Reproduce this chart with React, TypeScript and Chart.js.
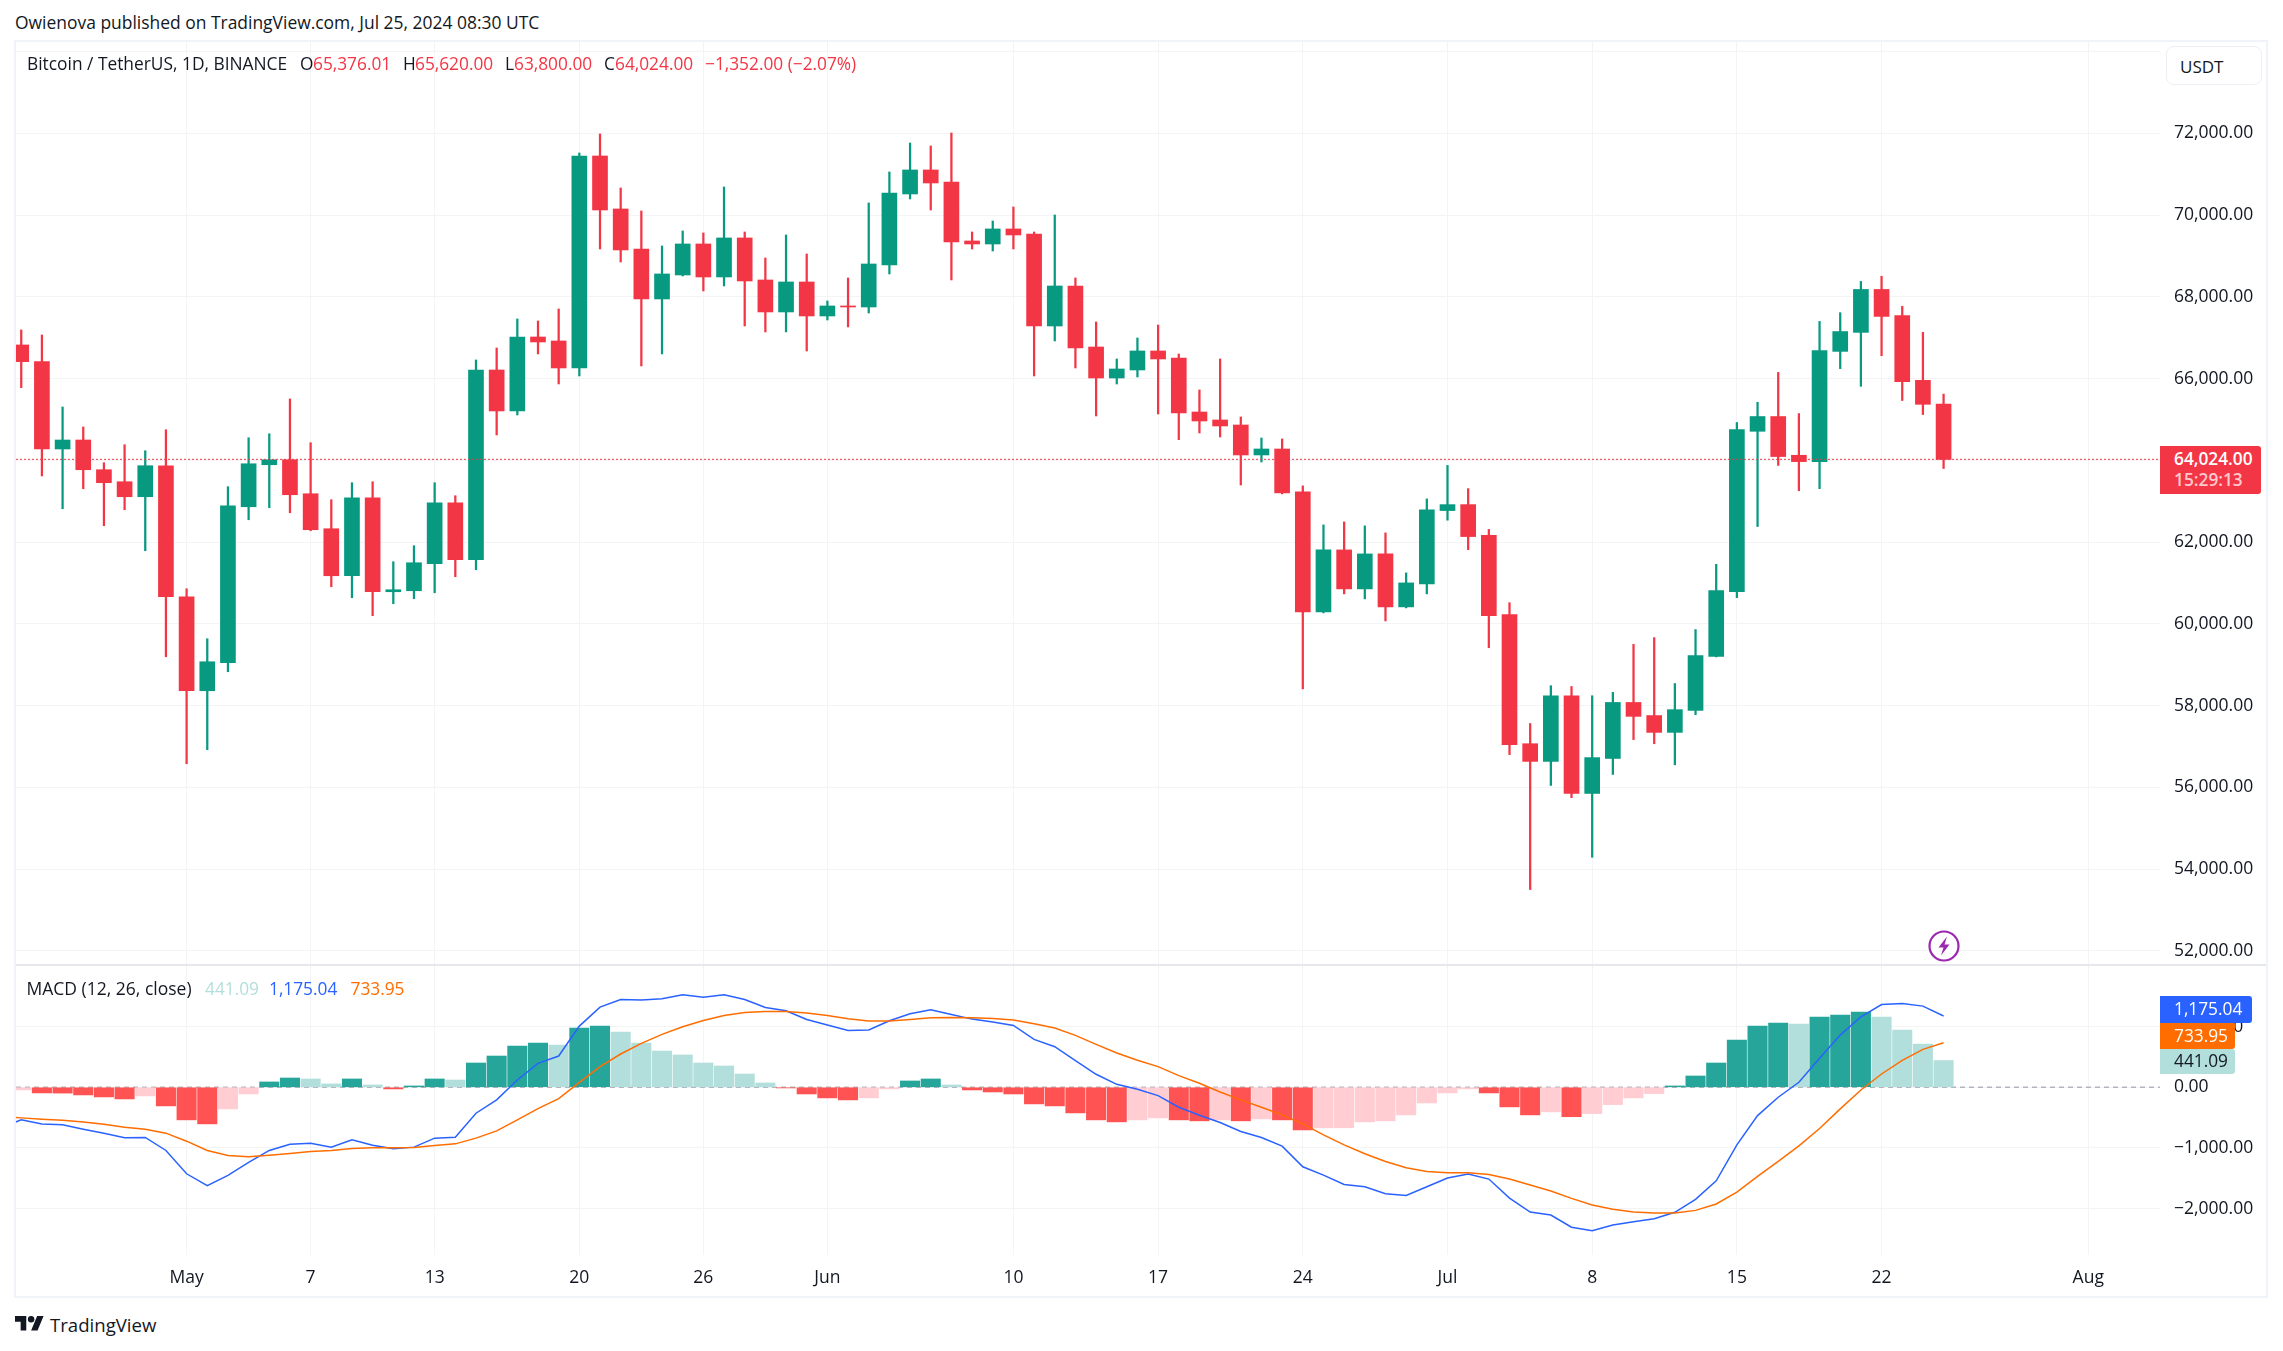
import React, { useEffect, useRef } from "react";
import { Chart, registerables } from "chart.js";

Chart.register(...registerables);

const candleOpen = [66822,66414,64277,64497,63770,63476,63109,63868,60663,58363,59048,62864,63892,64014,63182,62326,61176,63085,60785,60809,61470,62962,61568,66210,65207,67017,66920,66259,71445,70149,69170,67947,68534,69293,68485,69440,68412,67629,68363,67531,67776,67751,68779,70516,71103,70809,69366,69292,69660,69537,67286,68265,66772,66014,66210,66675,66503,65182,64987,64864,64131,64277,63227,60292,61808,60854,61710,60414,60977,62771,62916,62165,60229,57067,56634,58240,55850,56706,58076,57756,57344,57881,59200,60785,64710,65071,64123,63968,66665,67130,68180,67541,65956,65376.01];
const candleHigh = [67189,67066,65305,64815,63941,64381,64234,64748,60858,59635,63354,64552,64650,65501,64430,63036,63452,63476,61519,61910,63452,63134,66455,66748,67458,67409,67702,71519,71984,70663,70100,69244,69611,69562,70687,69586,68950,69513,69048,67898,68461,70296,71054,71763,71690,72008,69586,69855,70198,69586,70002,68461,67384,66479,66993,67311,66601,65721,66479,65060,64546,64522,63374,62420,62493,62396,62224,61246,63056,63875,63307,62309,60517,57561,58487,58467,58240,58323,59497,59662,58539,59859,61456,64925,65420,66150,65143,67398,67612,68376,68500,67768,67130,65620];
const candleLow = [65778,63617,62815,63305,62400,62791,61788,59195,56577,56920,58828,62546,62840,62718,62277,60907,60638,60198,60491,60614,60760,61152,61323,64620,65109,66602,65868,66063,69170,68852,66308,66602,68510,68143,68265,67286,67140,67140,66675,67433,67262,67604,68559,70393,70124,68412,69170,69121,69170,66063,66920,66259,65085,65867,66039,65133,64504,64669,64571,63396,63959,63178,58408,60267,60732,60610,60071,60390,60732,62535,61815,59415,56800,53500,56046,55747,54288,56315,57168,57066,56551,57777,59190,60640,62380,63875,63256,63307,66243,65810,66560,65462,65120,63800];
const candleClose = [66414,64277,64497,63770,63452,63109,63868,60663,58363,59072,62889,63916,64014,63158,62302,61176,63085,60785,60834,61494,62962,61568,66210,65207,67017,66895,66259,71445,70124,69146,67947,68559,69293,68485,69440,68387,67629,68363,67531,67776,67751,68803,70540,71103,70785,69341,69292,69660,69513,67286,68265,66748,66014,66234,66675,66479,65158,64962,64840,64131,64277,63203,60292,61808,60854,61710,60414,61001,62787,62916,62134,60198,57046,56634,58240,55850,56727,58076,57736,57344,57900,59220,60816,64752,65071,64092,63968,66684,67150,68180,67520,65925,65370,64024];
const lastPrice = 64024;

const macdHistogram = [-44,-93,-96,-126,-159,-192,-142,-307,-537,-603,-356,-110,88,153,137,55,137,38,-27,22,137,120,400,515,680,729,696,975,1008,910,729,597,532,400,351,219,71,-11,-110,-175,-208,-175,-27,104,137,38,-44,-77,-110,-274,-307,-422,-537,-570,-537,-504,-537,-553,-537,-553,-521,-537,-701,-668,-667,-570,-553,-455,-258,-93,-27,-93,-323,-455,-405,-485,-433,-285,-175,-104,22,186,400,778,1008,1058,1041,1156,1189,1238,1156,943,712,441.09];
const macdLine = [-537,-603,-619,-690,-756,-833,-827,-1041,-1425,-1622,-1452,-1238,-1041,-937,-921,-986,-866,-954,-1014,-986,-838,-822,-427,-208,120,395,515,1008,1321,1447,1436,1458,1523,1485,1523,1447,1315,1260,1118,1025,937,943,1096,1211,1277,1200,1123,1074,1019,789,669,438,214,49,-33,-137,-329,-460,-581,-729,-827,-970,-1310,-1447,-1600,-1639,-1754,-1781,-1639,-1496,-1430,-1512,-1825,-2055,-2104,-2305,-2362,-2269,-2214,-2165,-2060,-1847,-1540,-948,-466,-164,82,477,860,1162,1364,1381,1337,1175.04];
const signalLine = [-504,-526,-543,-570,-608,-658,-690,-756,-888,-1041,-1123,-1145,-1118,-1090,-1058,-1041,-1008,-997,-997,-992,-959,-932,-838,-718,-537,-351,-186,82,340,548,723,871,997,1101,1184,1233,1249,1249,1222,1184,1129,1091,1091,1118,1145,1151,1145,1134,1107,1047,975,855,707,564,444,340,192,66,-77,-208,-329,-455,-603,-784,-948,-1096,-1222,-1326,-1386,-1408,-1408,-1436,-1512,-1611,-1710,-1830,-1940,-2011,-2055,-2071,-2071,-2028,-1923,-1726,-1469,-1222,-964,-680,-356,-44,219,444,625,733.95];
// The day before the first visible candle: its line values run in from off the left edge.
const macdLineBefore = -668;
const signalLineBefore = -482;

const xTickIndex = [8,14,20,27,33,39,48,55,62,69,76,83,90,100];
const xTickText = ["May","7","13","20","26","Jun","10","17","24","Jul","8","15","22","Aug"];
const priceTicks = [52000,54000,56000,58000,60000,62000,64000,66000,68000,70000,72000,74000];
const macdTicks = [-2000,-1000,0,1000];

const FONT = '"Open Sans", sans-serif';
const TICK_SIZE = 17.5;
const TEXT = "#131722";
const UP = "#089981";
const DOWN = "#F23645";
const GRID = "#f3f4f6";
const X_MIN = -0.2535;
const X_MAX = 103.47;

const fmt = (v: number) => {
  const s = Math.abs(v).toLocaleString("en-US", { minimumFractionDigits: 2, maximumFractionDigits: 2 });
  return (v < 0 ? "\u2212" : "") + s;
};

const histColor = (v: number, i: number) => {
  const prev = i === 0 ? -1e9 : macdHistogram[i - 1];
  if (v >= 0) return v >= prev ? "#26A69A" : "#B2DFDB";
  return v < prev ? "#FF5252" : "#FFCDD2";
};

const noPadding = (s: any) => {
  s.paddingTop = 0;
  s.paddingBottom = 0;
  s.paddingLeft = 0;
  s.paddingRight = 0;
};

const xScale = (showLabels: boolean, height: number) => ({
  type: "linear",
  min: X_MIN,
  max: X_MAX,
  bounds: "data",
  offset: false,
  grid: { color: GRID, lineWidth: 1, drawTicks: false, offset: false },
  border: { display: false },
  afterBuildTicks: (s: any) => { s.ticks = xTickIndex.map((value) => ({ value })); },
  afterFit: (s: any) => { s.height = height; noPadding(s); },
  ticks: {
    display: showLabels,
    autoSkip: false,
    maxRotation: 0,
    padding: 13,
    color: TEXT,
    font: { family: FONT, size: TICK_SIZE },
    callback: (v: number) => xTickText[xTickIndex.indexOf(v)] ?? "",
  },
});

const yScale = (min: number, max: number, tickList: number[], hidden: number[]) => ({
  type: "linear",
  position: "right",
  min,
  max,
  bounds: "data",
  grid: { color: GRID, lineWidth: 1, drawTicks: false },
  border: { display: false },
  afterBuildTicks: (s: any) => { s.ticks = tickList.map((value) => ({ value })); },
  afterFit: (s: any) => { s.width = 106; noPadding(s); },
  ticks: {
    autoSkip: false,
    crossAlign: "near",
    padding: 14,
    color: TEXT,
    font: { family: FONT, size: TICK_SIZE },
    callback: (v: number) => (hidden.includes(v) ? "" : fmt(v)),
  },
});

const baseOptions = {
  responsive: false,
  animation: false,
  events: [],
  layout: { padding: 0 },
  plugins: { legend: { display: false }, tooltip: { enabled: false }, title: { display: false } },
};

function abs(left: number, top: number, extra: any = {}) {
  return { position: "absolute", left, top, ...extra } as React.CSSProperties;
}

function Txt({ x, cy, color = TEXT, size = 17.3, children, weight = 400 }: any) {
  return (
    <span
      style={{
        position: "absolute",
        left: x,
        top: cy,
        transform: "translateY(-50%)",
        color,
        fontSize: size,
        fontWeight: weight,
        fontFamily: FONT,
        whiteSpace: "pre",
        lineHeight: 1,
      }}
    >
      {children}
    </span>
  );
}

export default function App() {
  const priceRef = useRef<HTMLCanvasElement>(null);
  const macdRef = useRef<HTMLCanvasElement>(null);

  useEffect(() => {
    const idx = candleOpen.map((_, i) => i);
    const candleColors = idx.map((i) => (candleClose[i] >= candleOpen[i] ? UP : DOWN));

    const price = new Chart(priceRef.current!, {
      type: "bar",
      data: {
        datasets: [
          {
            type: "line",
            order: 0,
            data: [{ x: X_MIN, y: lastPrice }, { x: X_MAX, y: lastPrice }],
            borderColor: DOWN,
            borderWidth: 1,
            borderDash: [2, 2],
            pointRadius: 0,
          },
          {
            order: 1,
            grouped: false,
            barThickness: 15,
            data: idx.map((i) => ({ x: i, y: [candleOpen[i], candleClose[i]] })),
            backgroundColor: candleColors,
            borderWidth: 0,
          },
          {
            order: 2,
            grouped: false,
            barThickness: 1.6,
            data: idx.map((i) => ({ x: i, y: [candleLow[i], candleHigh[i]] })),
            backgroundColor: candleColors,
            borderWidth: 0,
          },
        ],
      } as any,
      options: {
        ...baseOptions,
        scales: {
          x: xScale(false, 0),
          y: yScale(51653.3, 74233.6, priceTicks, [74000]),
        },
      } as any,
    });

    const macd = new Chart(macdRef.current!, {
      type: "bar",
      data: {
        datasets: [
          {
            type: "line",
            order: 0,
            data: [{ x: -1, y: signalLineBefore }, ...idx.map((i) => ({ x: i, y: signalLine[i] }))],
            borderColor: "#FF6D00",
            borderWidth: 1.5,
            pointRadius: 0,
          },
          {
            type: "line",
            order: 1,
            data: [{ x: -1, y: macdLineBefore }, ...idx.map((i) => ({ x: i, y: macdLine[i] }))],
            borderColor: "#2962FF",
            borderWidth: 1.5,
            pointRadius: 0,
          },
          {
            type: "line",
            order: 3,
            data: [{ x: X_MIN, y: 0 }, { x: X_MAX, y: 0 }],
            borderColor: "#b2b5be",
            borderWidth: 1.5,
            borderDash: [5, 4],
            pointRadius: 0,
          },
          {
            order: 2,
            grouped: false,
            barThickness: 19.4,
            data: idx.map((i) => ({ x: i, y: macdHistogram[i] })),
            backgroundColor: macdHistogram.map(histColor),
            borderWidth: 0,
          },
        ],
      } as any,
      options: {
        ...baseOptions,
        scales: {
          x: xScale(true, 41),
          y: yScale(-2763, 1998, macdTicks, []),
        },
      } as any,
    });

    return () => {
      price.destroy();
      macd.destroy();
    };
  }, []);

  const tag = (top: number, h: number, w: number, bg: string): React.CSSProperties =>
    abs(2160, top, { width: w, height: h, background: bg, borderRadius: "0 3px 3px 0" });

  return (
    <div style={abs(0, 0, { width: 2283, height: 1351, background: "#fff", overflow: "hidden" })}>
      <Txt x={15} cy={23} size={17.45}>Owienova published on TradingView.com, Jul 25, 2024 08:30 UTC</Txt>

      <div style={abs(14, 40, { width: 2254, height: 1258, border: "2px solid #f0f3fa", boxSizing: "border-box" })} />
      <canvas ref={priceRef} width={2250} height={923} style={abs(16, 42, { display: "block" })} />
      <canvas ref={macdRef} width={2250} height={330} style={abs(16, 966, { display: "block" })} />
      <div style={abs(16, 964, { width: 2250, height: 2, background: "#e6e8ee" })} />

      <Txt x={27} cy={63.5} size={17.35}>Bitcoin / TetherUS, 1D, BINANCE</Txt>
      <Txt x={300} cy={63.5}>O</Txt><Txt x={313} cy={63.5} color={DOWN}>65,376.01</Txt>
      <Txt x={403} cy={63.5}>H</Txt><Txt x={415} cy={63.5} color={DOWN}>65,620.00</Txt>
      <Txt x={505} cy={63.5}>L</Txt><Txt x={514} cy={63.5} color={DOWN}>63,800.00</Txt>
      <Txt x={604} cy={63.5}>C</Txt><Txt x={615} cy={63.5} color={DOWN}>64,024.00</Txt>
      <Txt x={705} cy={63.5} color={DOWN}>{"\u22121,352.00 (\u22122.07%)"}</Txt>

      <div style={abs(2166, 46, { width: 96, height: 39, border: "1.5px solid #eceef3", borderRadius: 8, boxSizing: "border-box", background: "#fff" })} />
      <Txt x={2180} cy={65.5} size={17}>USDT</Txt>

      <div style={tag(446, 48, 101, DOWN)} />
      <Txt x={2174} cy={459} color="#fff" weight={600}>{fmt(lastPrice)}</Txt>
      <Txt x={2174} cy={480} color="#ffc9ce" weight={600}>15:29:13</Txt>

      <svg width={34} height={34} viewBox="0 0 34 34" style={abs(1926.5, 928.5)}>
        <circle cx={17} cy={17} r={14.5} fill="#fff" stroke="#9c27b0" strokeWidth={2.2} />
        <path d="M20 7.5 L11.5 18.5 H16.5 L14 26.5 L22.5 15.5 H17.5 Z" fill="#9c27b0" />
      </svg>

      <Txt x={26.5} cy={989} size={17.5}>MACD (12, 26, close)</Txt>
      <Txt x={205} cy={989} color="#B2DFDB">441.09</Txt>
      <Txt x={269} cy={989} color="#2962FF">1,175.04</Txt>
      <Txt x={350.5} cy={989} color="#FF6D00">733.95</Txt>

      <div style={tag(1049, 25, 75, "#B2DFDB")} />
      <Txt x={2174} cy={1061} color={TEXT}>441.09</Txt>
      <div style={tag(1022, 27, 75, "#FF6D00")} />
      <Txt x={2174} cy={1035.5} color="#fff" weight={500}>733.95</Txt>
      <div style={tag(996, 27, 91.5, "#2962FF")} />
      <Txt x={2174} cy={1009} color="#fff" weight={500}>1,175.04</Txt>

      <svg width={29} height={15} viewBox="0 4 36 18.5" preserveAspectRatio="none" style={abs(15, 1316)}>
        <path d="M14 22H7V11H0V4h14v18zM28 22h-8l7.5-18h8L28 22z" fill={TEXT} />
        <circle cx={20} cy={8} r={4} fill={TEXT} />
      </svg>
      <Txt x={50} cy={1325} size={18.6} color={TEXT}>TradingView</Txt>
    </div>
  );
}
